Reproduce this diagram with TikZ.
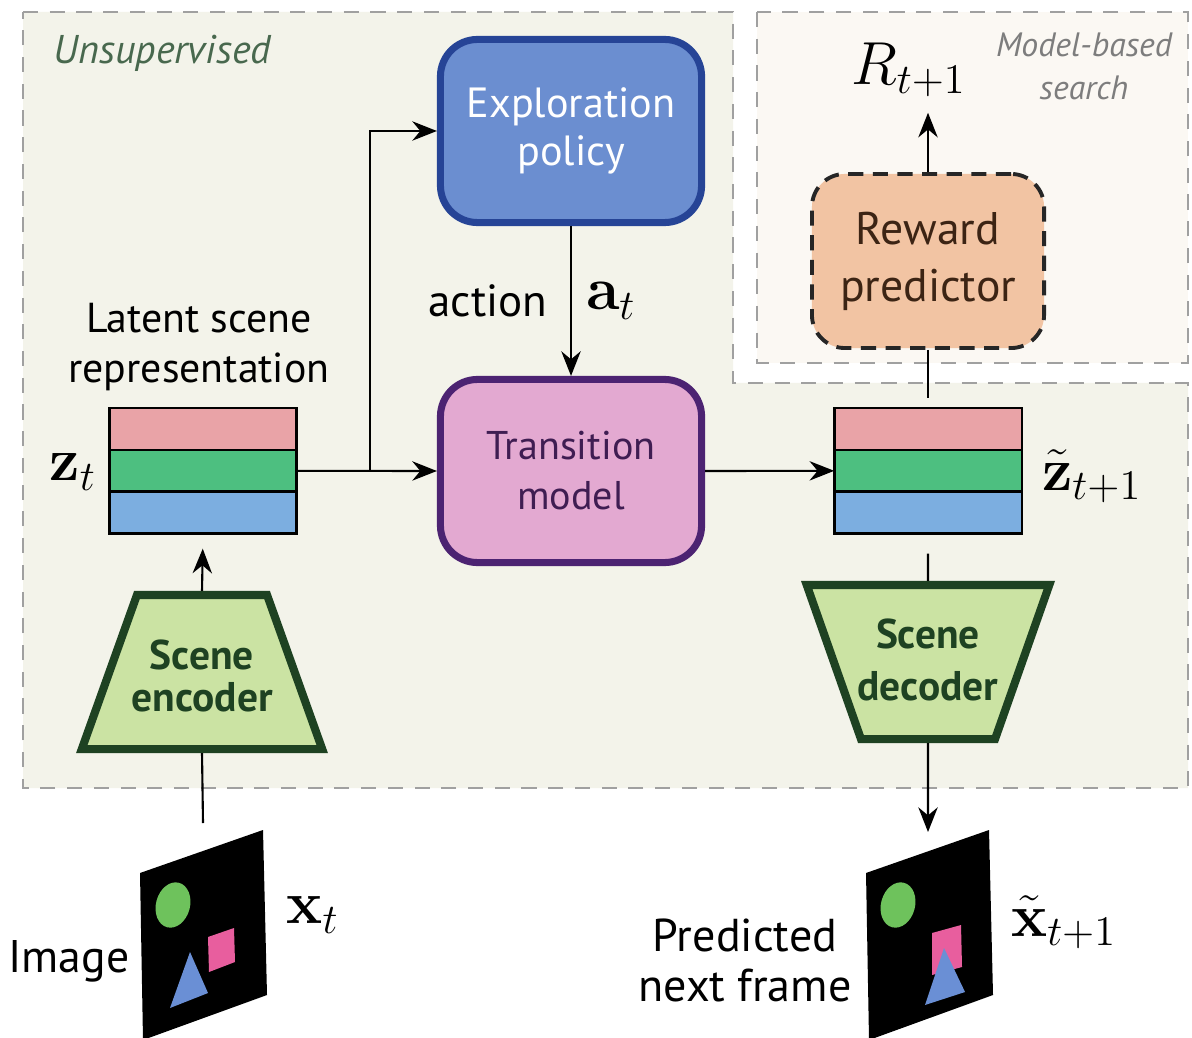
\documentclass[tikz,border=0pt]{standalone}
\usepackage[no-math]{fontspec}
\usepackage{amsmath}
\setmainfont{PT Sans}
\usetikzlibrary{arrows.meta,shapes.geometric,positioning}

\definecolor{unsupfill}{RGB}{243,243,234}
\definecolor{searchfill}{RGB}{251,248,243}
\definecolor{regionline}{RGB}{160,160,160}
\definecolor{unsuptext}{RGB}{72,104,78}
\definecolor{searchtext}{RGB}{125,125,125}
\definecolor{policyfill}{RGB}{107,142,208}
\definecolor{policyline}{RGB}{38,68,150}
\definecolor{transfill}{RGB}{227,169,209}
\definecolor{transline}{RGB}{76,35,114}
\definecolor{transtext}{RGB}{63,29,82}
\definecolor{rewardfill}{RGB}{242,196,163}
\definecolor{rewardtext}{RGB}{60,36,20}
\definecolor{codecfill}{RGB}{203,227,163}
\definecolor{codecline}{RGB}{30,66,34}
\definecolor{bandred}{RGB}{233,163,167}
\definecolor{bandgreen}{RGB}{77,191,128}
\definecolor{bandblue}{RGB}{124,174,224}
\definecolor{objgreen}{RGB}{110,194,92}
\definecolor{objpink}{RGB}{232,94,158}
\definecolor{objblue}{RGB}{106,143,213}

\tikzset{
  region/.style={draw=regionline, line width=0.6pt, dash pattern=on 4.3pt off 3.3pt},
  flow/.style={-{Stealth[length=7pt,width=5.5pt]}, line width=0.6pt},
  plain/.style={line width=0.6pt},
  bigbox/.style={rectangle, rounded corners=0.37cm, line width=2pt, minimum width=2.61cm,
    minimum height=1.83cm, align=center, inner sep=0pt},
  band/.style={rectangle, draw=black, line width=0.75pt, minimum width=1.875cm,
    minimum height=0.418cm, outer sep=0pt, inner sep=0pt},
  codec/.style={trapezium, draw=codecline, fill=codecfill, line width=2.3pt, inner sep=0pt,
    text width=1.3cm, text height=0.77cm, text depth=0.77cm},
  codectext/.style={font=\fontsize{11.8}{11.9}\selectfont\bfseries, text=codecline, align=center, inner sep=0pt},
  txt/.style={font=\fontsize{13}{14.2}\selectfont, align=center, inner sep=0pt},
  sym/.style={font=\LARGE, inner sep=0pt},
}

\begin{document}
\begin{tikzpicture}[x=0.01cm, y=-0.01cm]
  \useasboundingbox (0,0) rectangle (1192,1037);

  % dashed regions
  \draw[region, fill=unsupfill] (23,12) -- (733,12) -- (733,383) -- (1188,383) -- (1188,788) -- (23,788) -- cycle;
  \draw[region, fill=searchfill] (757,12) rectangle (1188,363);
  \node[font=\fontsize{11.4}{13}\selectfont\itshape, text=unsuptext, anchor=west, inner sep=0pt] (unsup) at (53,53) {Unsupervised};
  \node[font=\fontsize{9.6}{12.2}\selectfont\itshape, text=searchtext, align=center, inner sep=0pt] (search) at (1084,66) {Model-based\\search};

  % policy and transition model
  \node[bigbox, draw=policyline, fill=policyfill, text=white, font=\fontsize{12}{13.7}\selectfont] (explore) at (571,131) {Exploration\\policy};
  \node[bigbox, draw=transline, fill=transfill, text=transtext, font=\fontsize{11.4}{14.2}\selectfont] (trans) at (571,471) {Transition\\model};

  % reward predictor
  \node[bigbox, draw=black!85, fill=rewardfill, text=rewardtext, line width=1.1pt, dash pattern=on 4.3pt off 2.7pt,
    rounded corners=0.33cm, minimum width=2.32cm, minimum height=1.74cm, font=\fontsize{13}{16.2}\selectfont] (reward) at (928,261) {Reward\\predictor};
  \node[sym] (rlabel) at (909,70) {$R_{t+1}$};

  % latent scene representation z_t
  \node[txt, font=\fontsize{11.9}{14.2}\selectfont] (latent) at (199,347) {Latent scene\\representation};
  \node[band, fill=bandred] (zt1) at (203,429) {};
  \node[band, fill=bandgreen, below=0pt of zt1] (zt) {};
  \node[band, fill=bandblue, below=0pt of zt] (zt3) {};
  \node[sym] (ztlabel) at (73,472) {$\mathbf{z}_t$};

  % predicted latent z_{t+1}
  \node[band, fill=bandred] (zn1) at (928,429) {};
  \node[band, fill=bandgreen, below=0pt of zn1] (zn) {};
  \node[band, fill=bandblue, below=0pt of zn] (zn3) {};
  \node[sym] (znlabel) at (1092,476) {$\tilde{\mathbf{z}}_{t+1}$};

  % encoder and decoder
  \node[codec, trapezium angle=70.3] (enc) at (202,672) {};
  \node[codectext] (enctext) at (202,676) {Scene\\encoder};
  \node[codec, trapezium angle=109.4, text width=1.34cm] (dec) at (928,662) {};
  \node[codectext, font=\fontsize{11.8}{14.8}\selectfont\bfseries] (dectext) at (928,660) {Scene\\decoder};

  % input frame
  \fill[black] (140,873) -- (263,830) -- (267,995) -- (143,1040) -- cycle;
  \fill[objgreen, rotate around={-15:(173,905)}] (173,905) ellipse (0.17cm and 0.23cm);
  \fill[objpink] (208,937) -- (234,928) -- (235,962) -- (209,972) -- cycle;
  \fill[objblue] (190,952) -- (208,993) -- (170,1008) -- cycle;
  \coordinate (xin) at (203,823);
  \node[txt, anchor=east] (imglabel) at (130,961) {Image};
  \node[sym] (xt) at (313,915) {$\mathbf{x}_t$};

  % predicted frame
  \fill[black] (866,873) -- (989,830) -- (993,995) -- (869,1040) -- cycle;
  \fill[objgreen, rotate around={-15:(898,905)}] (898,905) ellipse (0.17cm and 0.23cm);
  \fill[objpink] (932,933) -- (961,925) -- (962,967) -- (932,975) -- cycle;
  \fill[objblue] (944,948) -- (965,992) -- (925,1005) -- cycle;
  \coordinate (xout) at (928,832);
  \node[txt, font=\fontsize{13.1}{14.2}\selectfont] (predlabel) at (745,960) {Predicted\\next frame};
  \node[sym] (xnext) at (1064,922) {$\tilde{\mathbf{x}}_{t+1}$};

  % connectors
  \coordinate (split) at (370,471);
  \draw[plain] (enc.south) -- (xin);
  \draw[flow, shorten >=4.3pt] (enc.north) -- (zt3.south);
  \draw[flow] (zt.east) -- (trans.west);
  \draw[flow] (split) |- (explore.west);
  \draw[flow] (explore) -- node[txt, font=\fontsize{12.8}{14}\selectfont, left=6.5pt] (act) {action} node[sym, right=4pt] (at) {$\mathbf{a}_t$} (trans);
  \draw[flow] (trans.east) -- (zn.west);
  \draw[plain, shorten >=2.8pt] (reward.south) -- (zn1.north);
  \draw[flow, shorten >=4.3pt] (reward.north) -- (reward.north |- rlabel.south);
  \draw[plain, shorten <=5.7pt] (zn3.south) -- (dec.north);
  \draw[flow] (dec.south) -- (xout);
\end{tikzpicture}
\end{document}
